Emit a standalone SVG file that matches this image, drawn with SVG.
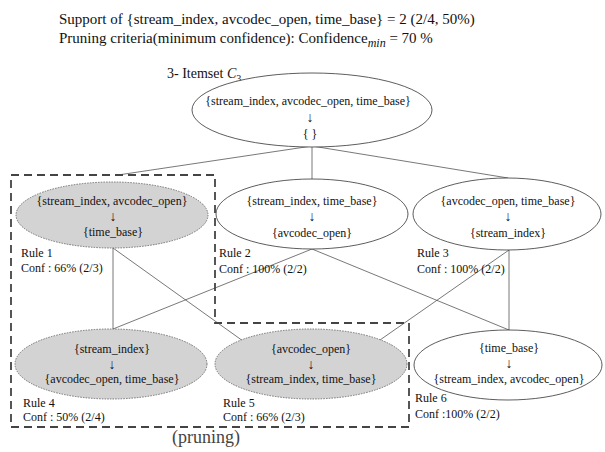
<svg xmlns="http://www.w3.org/2000/svg" width="605" height="452" viewBox="0 0 605 452">
<style>
text{font-family:"Liberation Serif","Times New Roman",serif;fill:#111}
.t{font-size:15px}
.n{font-size:12px;text-anchor:middle}
.a{font-size:14px;text-anchor:middle}
.l{font-size:12px}
.open{fill:#fff;stroke:#333;stroke-width:0.8}
.pruned{fill:#d3d3d3;stroke:#666;stroke-width:0.9;stroke-dasharray:1.5 1.2}
.conn line{stroke:#555;stroke-width:0.8}
</style>
<rect width="605" height="452" fill="#fff"/>
<text class="t" x="59" y="24">Support of {stream_index, avcodec_open, time_base}  = 2 (2/4, 50%)</text>
<text class="t" x="59" y="43">Pruning criteria(minimum confidence): Confidence<tspan font-style="italic" font-size="12" dy="4">min</tspan><tspan dy="-4"> = 70 %</tspan></text>
<text x="167" y="78" font-size="14">3- Itemset <tspan font-style="italic">C</tspan><tspan font-size="10" dy="4">3</tspan></text>

<g id="connectors" class="conn">
<line x1="312" y1="146" x2="118" y2="175"/>
<line x1="312" y1="146" x2="312" y2="179"/>
<line x1="312" y1="146" x2="508" y2="178"/>
<line x1="113" y1="248" x2="113" y2="329"/>
<line x1="113" y1="248" x2="243" y2="341"/>
<line x1="312" y1="249" x2="113" y2="329"/>
<line x1="312" y1="249" x2="509" y2="330"/>
<line x1="509" y1="250" x2="509" y2="330"/>
<line x1="509" y1="250" x2="380" y2="340"/>
</g>

<path id="pruning-region" d="M11,175 H215 V323 H409 V427 H11 Z" fill="none" stroke="#444" stroke-width="1.8" stroke-dasharray="8 5"/>
<text x="172" y="443" font-size="18" style="fill:#444">(pruning)</text>

<g id="itemset">
<ellipse class="open" cx="312" cy="110" rx="120" ry="37"/>
<text class="n" x="308" y="105">{stream_index, avcodec_open, time_base}</text>
<text class="a" x="310" y="122">↓</text>
<text class="n" x="310" y="138">{ }</text>
</g>

<g id="rule1">
<ellipse class="pruned" cx="112" cy="215" rx="96" ry="33"/>
<text class="n" x="112" y="205">{stream_index, avcodec_open}</text>
<text class="a" x="113" y="221">↓</text>
<text class="n" x="113" y="236">{time_base}</text>
<text class="l" x="21" y="257">Rule 1</text>
<text class="l" x="21" y="272">Conf : 66% (2/3)</text>
</g>

<g id="rule2">
<ellipse class="open" cx="312" cy="214" rx="96" ry="35"/>
<text class="n" x="312" y="205">{stream_index, time_base}</text>
<text class="a" x="312" y="221">↓</text>
<text class="n" x="312" y="237">{avcodec_open}</text>
<text class="l" x="219" y="257">Rule 2</text>
<text class="l" x="219" y="273">Conf : 100% (2/2)</text>
</g>

<g id="rule3">
<ellipse class="open" cx="507" cy="214" rx="94" ry="36"/>
<text class="n" x="508" y="205">{avcodec_open, time_base}</text>
<text class="a" x="508" y="221">↓</text>
<text class="n" x="508" y="237">{stream_index}</text>
<text class="l" x="417" y="257">Rule 3</text>
<text class="l" x="417" y="273">Conf : 100% (2/2)</text>
</g>

<g id="rule4">
<ellipse class="pruned" cx="111" cy="364" rx="96" ry="35"/>
<text class="n" x="112" y="353">{stream_index}</text>
<text class="a" x="112" y="369">↓</text>
<text class="n" x="112" y="383">{avcodec_open, time_base}</text>
<text class="l" x="23" y="407">Rule 4</text>
<text class="l" x="23" y="421">Conf : 50% (2/4)</text>
</g>

<g id="rule5">
<ellipse class="pruned" cx="311" cy="364" rx="96" ry="35"/>
<text class="n" x="311" y="353">{avcodec_open}</text>
<text class="a" x="311" y="369">↓</text>
<text class="n" x="311" y="383">{stream_index, time_base}</text>
<text class="l" x="223" y="407">Rule 5</text>
<text class="l" x="223" y="421">Conf : 66% (2/3)</text>
</g>

<g id="rule6">
<ellipse class="open" cx="508" cy="365" rx="94" ry="35"/>
<text class="n" x="509" y="352">{time_base}</text>
<text class="a" x="509" y="368">↓</text>
<text class="n" x="509" y="383">{stream_index, avcodec_open}</text>
<text class="l" x="415" y="402">Rule 6</text>
<text class="l" x="415" y="418">Conf :100% (2/2)</text>
</g>
</svg>
